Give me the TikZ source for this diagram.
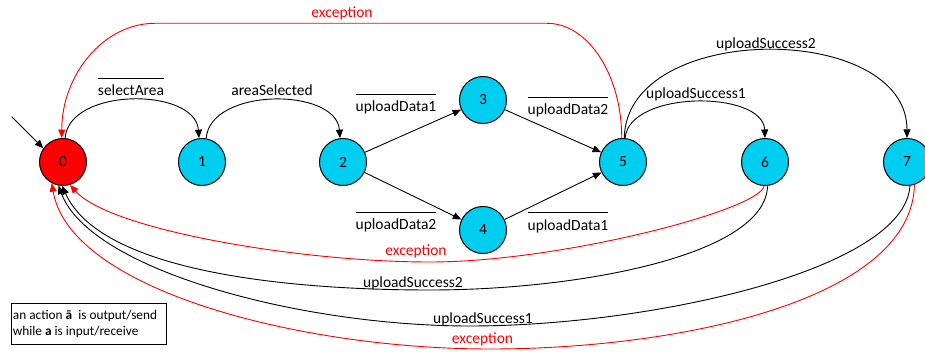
\documentclass[tikz,border=0pt]{standalone}
\usepackage{fontspec}
\setmainfont{Carlito}
\usetikzlibrary{arrows.meta}
\definecolor{stcyan}{RGB}{0,206,240}
\definecolor{stred}{RGB}{255,0,0}
\newcommand\ovl[1]{\leavevmode\setbox0\hbox{#1}\rlap{\rule[17.5pt]{\wd0}{0.8pt}}\box0}
\begin{document}
\begin{tikzpicture}[x=1pt,y=1pt,
  stnode/.style={circle,draw=black,line width=1pt,minimum size=47pt,inner sep=0pt,font=\fontsize{15.5}{18}\selectfont},
  lbl/.style={anchor=base,inner sep=0pt,font=\fontsize{15.5}{18}\selectfont},
  conn/.style={-{Triangle[length=8.5pt,width=7pt]},line width=0.9pt},
  rconn/.style={conn,draw=stred},
  ]
\useasboundingbox (0,0) rectangle (925,352);
% states
\node[stnode,fill=stred] (n0) at (63,190) {0};
\node[stnode,fill=stcyan] (n1) at (202,190) {1};
\node[stnode,fill=stcyan] (n2) at (343,190) {2};
\node[stnode,fill=stcyan] (n3) at (483,252) {3};
\node[stnode,fill=stcyan] (n4) at (483,122) {4};
\node[stnode,fill=stcyan] (n5) at (623,190) {5};
\node[stnode,fill=stcyan] (n6) at (765,190) {6};
\node[stnode,fill=stcyan] (n7) at (907,190) {7};
% initial arrow
\coordinate (init) at (11.7,235.3);
\draw[conn] (init) -- (n0.145);
% top arcs
\draw[conn] (n0.85) .. controls +(4,51) and +(-4,51) .. (n1.97);
\draw[conn] (n1.80) .. controls +(4,51) and +(-4,51) .. (n2.97);
\draw[conn] (n5.85) .. controls +(4,48) and +(-2,48) .. (n6.90);
\draw[conn] (n5.87) .. controls +(2,117) and +(0,117) .. (n7.90);
% straight edges
\draw[conn] (n2) -- (n3);
\draw[conn] (n2) -- (n4);
\draw[conn] (n3) -- (n5);
\draw[conn] (n4) -- (n5);
% exception from 5
\coordinate (ea) at (547,328.7);
\coordinate (eb) at (155,328.7);
\draw[rconn] (n5.93) .. controls +(0,63) and +(41.2,0) .. (ea) -- (eb) .. controls +(-51.5,0) and +(0,63) .. (n0.93);
% bottom returns
\coordinate (m6r) at (430,90);
\draw[rconn] (n6.-92) .. controls (760,142) and (560,90) .. (m6r) .. controls (300,90) and (110,122) .. (n0.-73);
\coordinate (m6b) at (430,62);
\draw[conn] (n6.-84) .. controls (766,97) and (580,62) .. (m6b) .. controls (280,62) and (100,82) .. (n0.-92);
\coordinate (m7b) at (470,26);
\draw[conn] (n7.-83) .. controls (905,82) and (650,26) .. (m7b) .. controls (300,26) and (90,82) .. (n0.-101);
\coordinate (m7r) at (490,3);
\draw[rconn] (n7.-72) .. controls (912,52) and (680,3) .. (m7r) .. controls (300,3) and (70,62) .. (n0.-118);
% labels
\node[lbl] (lsel) at (131,256) {\ovl{selectArea}};
\node[lbl] (lare) at (272,256) {areaSelected};
\node[lbl] (l23) at (396,240) {\ovl{uploadData1}};
\node[lbl] (l35) at (568,237) {\ovl{uploadData2}};
\node[lbl] (l24) at (396,122) {\ovl{uploadData2}};
\node[lbl] (l45) at (568,121.2) {\ovl{uploadData1}};
\node[lbl] (l56) at (696,253) {uploadSuccess1};
\node[lbl] (l57) at (766,303) {uploadSuccess2};
\node[lbl,text=stred] (lex5) at (342,334.5) {exception};
\node[lbl,text=stred] (lex6) at (416,96.5) {exception};
\node[lbl] (lus2) at (413,64.5) {uploadSuccess2};
\node[lbl] (lus1) at (483,28.5) {uploadSuccess1};
\node[lbl,text=stred] (lex7) at (482.5,8.1) {exception};
% legend
\node[draw,line width=0.8pt,minimum width=155pt,minimum height=41pt,inner sep=0pt,anchor=south west] (legend) at (10.7,7) {};
\node[anchor=base west,inner sep=0pt,font=\fontsize{13.3}{16}\selectfont] (leg1) at (12.7,32) {an action \textbf{ā}\ \ is output/send};
\node[anchor=base west,inner sep=0pt,font=\fontsize{13.3}{16}\selectfont] (leg2) at (12.7,16) {while \textbf{a} is input/receive};
\end{tikzpicture}
\end{document}
